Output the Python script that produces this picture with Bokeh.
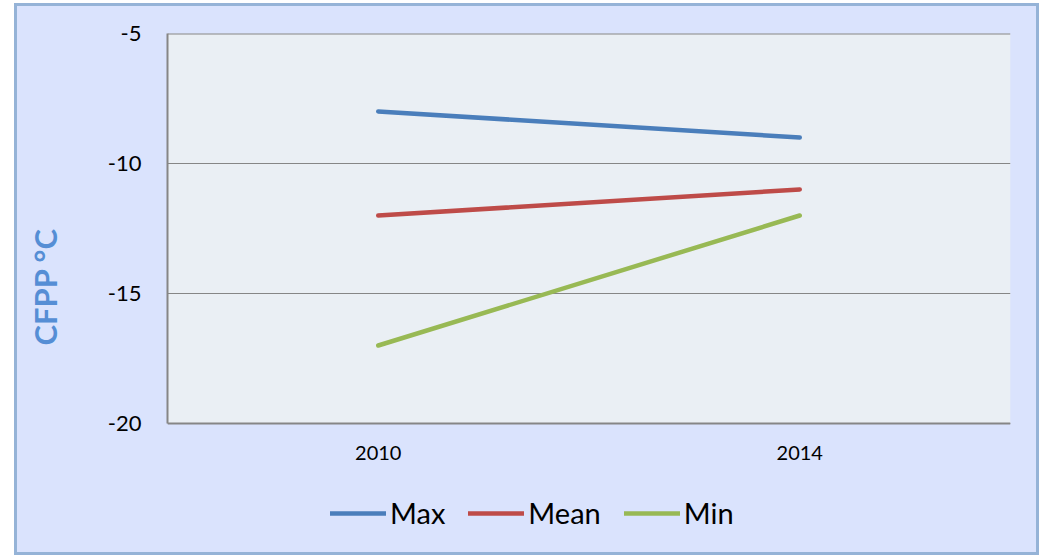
from bokeh.plotting import figure
from bokeh.models import (Legend, LegendItem, Title, FactorRange, Range1d, FixedTicker,
                          PrintfTickFormatter, Span, BoxAnnotation)
from bokeh.embed import file_html
from bokeh.resources import INLINE

years = ["2010", "2014"]
max_vals = [-8, -9]
mean_vals = [-12, -11]
min_vals = [-17, -12]
series_names = ["Max", "Mean", "Min"]
y_ticks = [-20, -15, -10, -5]
y_min, y_max = -20, -5

FONT = "Lato"
EDGE = "#95b3d7"

p = figure(x_range=FactorRange(*years, range_padding=0), y_range=Range1d(-24.5, y_max),
           frame_width=843, frame_height=507,
           min_border_left=179, min_border_right=29, min_border_top=30, min_border_bottom=15,
           output_backend="svg", toolbar_location=None)
bg = ", ".join([
    "linear-gradient(#ffffff,#ffffff) 0 0 / 31px 100% no-repeat",
    f"linear-gradient({EDGE},{EDGE}) 31px 0 / 3px 100% no-repeat",
    f"linear-gradient({EDGE},{EDGE}) 31px 0 / 100% 3px no-repeat",
    f"linear-gradient({EDGE},{EDGE}) 31px 100% / 100% 3px no-repeat",
    f"linear-gradient({EDGE},{EDGE}) 100% 0 / 3px 100% no-repeat",
    "#dae3fd",
])
p.styles = {"margin-left": "-17px", "margin-top": "3px", "background": bg}

p.background_fill_alpha = 0
p.border_fill_alpha = 0
p.outline_line_color = None

# plot-area background only over the value range
p.add_layout(BoxAnnotation(bottom=y_min, top=y_max, fill_color="#eaeff4", fill_alpha=1,
                           line_color=None, level="image"))

p.xgrid.grid_line_color = None
p.ygrid.grid_line_color = "#868686"
p.ygrid.grid_line_width = 1
p.ygrid.ticker = FixedTicker(ticks=y_ticks)
p.add_layout(Span(location=y_max, dimension="width", line_color="#868686", line_width=2))

p.yaxis.ticker = FixedTicker(ticks=y_ticks)
p.yaxis.formatter = PrintfTickFormatter(format="%d")
p.yaxis.bounds = (y_min, y_max)
p.xaxis.fixed_location = y_min
for ax in (p.xaxis[0], p.yaxis[0]):
    ax.axis_line_color = "#868686"
    ax.axis_line_width = 2
    ax.major_tick_line_color = None
    ax.minor_tick_line_color = None
    ax.major_tick_out = 0
    ax.major_tick_in = 0
    ax.minor_tick_out = 0
    ax.minor_tick_in = 0
    ax.major_label_text_font = FONT
    ax.major_label_text_color = "#000000"
p.yaxis.major_label_text_font_size = "22px"
p.xaxis.major_label_text_font_size = "20px"
p.yaxis.major_label_standoff = 26
p.xaxis.major_label_standoff = 22

colors = ["#4a7ebb", "#be4b48", "#98b954"]
renderers = []
for vals, c in zip([max_vals, mean_vals, min_vals], colors):
    r = p.line(years, vals, line_color=c, line_width=4.5, line_cap="round")
    renderers.append(r)

legend = Legend(items=[LegendItem(label=n, renderers=[r]) for n, r in zip(series_names, renderers)],
                orientation="horizontal", location=(163, 10),
                glyph_width=56, glyph_height=20, label_standoff=4, spacing=23,
                padding=0, margin=0, border_line_color=None, background_fill_alpha=0,
                label_text_font=FONT, label_text_font_size="29px", label_text_color="#000000")
p.add_layout(legend, "center")

title = Title(text="CFPP °C", align="left", offset=195, standoff=81,
              text_font=FONT, text_font_style="bold", text_font_size="31px",
              text_color="#558ed5")
p.add_layout(title, "left")

open("out.html", "w").write(file_html(p, INLINE))
